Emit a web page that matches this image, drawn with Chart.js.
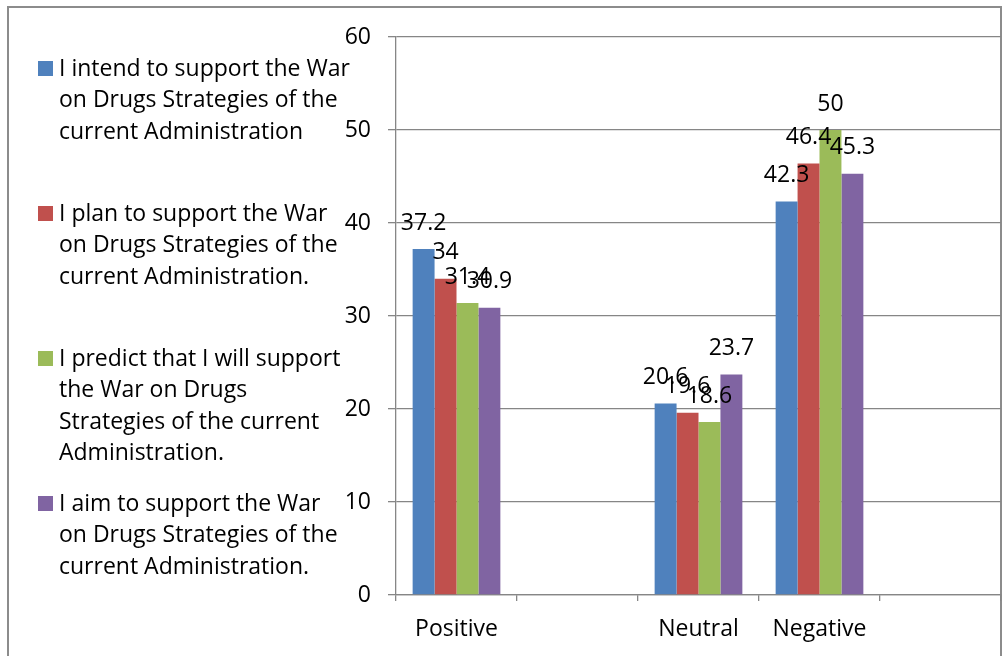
<!DOCTYPE html>
<html>
<head>
<meta charset="utf-8">
<title>War on Drugs Strategies</title>
<script src="https://cdn.jsdelivr.net/npm/chart.js@4.4.1/dist/chart.umd.min.js"></script>
<style>
  html, body { margin: 0; padding: 0; background: #fff; }
  #wrap { width: 1006px; height: 656px; position: relative; }
</style>
</head>
<body>
<div id="wrap"><canvas id="supportChart" width="1006" height="656"></canvas></div>
<script>
// categories (two blank slots keep the Excel spacing)
const categories = ['Positive', '', 'Neutral', 'Negative', ''];

const intendValues  = [37.2, null, 20.6, 42.3, null];
const planValues    = [34,   null, 19.6, 46.4, null];
const predictValues = [31.4, null, 18.6, 50,   null];
const aimValues     = [30.9, null, 23.7, 45.3, null];

const yTickValues = [0, 10, 20, 30, 40, 50, 60];

// legend text, already broken into lines
const intendLines  = ['I intend to support the War', 'on Drugs Strategies of the', 'current Administration'];
const planLines    = ['I plan to support the War', 'on Drugs Strategies of the', 'current Administration.'];
const predictLines = ['I predict that I will support', 'the War on Drugs', 'Strategies of the current', 'Administration.'];
const aimLines     = ['I aim to support the War', 'on Drugs Strategies of the', 'current Administration.'];

const FONT = '"Open Sans", "Noto Sans", sans-serif';
const FONT_SIZE = 23;

// grey frame round the whole chart
const framePlugin = {
    id: 'frame',
    beforeDraw(chart) {
        const c = chart.ctx;
        c.save();
        c.fillStyle = '#fff';
        c.fillRect(0, 0, chart.width, chart.height);
        c.strokeStyle = '#8c8c8c';
        c.lineWidth = 2;
        c.strokeRect(8, 7, 993, 680);
        c.restore();
    }
};

// value labels over each bar
const valueLabels = {
    id: 'valueLabels',
    afterDatasetsDraw(chart) {
        const c = chart.ctx;
        c.save();
        c.font = FONT_SIZE + 'px ' + FONT;
        c.fillStyle = '#000';
        c.textAlign = 'center';
        c.textBaseline = 'middle';
        chart.data.datasets.forEach((ds, i) => {
            chart.getDatasetMeta(i).data.forEach((bar, j) => {
                const v = ds.data[j];
                if (v === null) return;
                c.fillText(String(v), bar.x, bar.y - 26);
            });
        });
        c.restore();
    }
};

// legend on the left with wrapped text
const sideLegend = {
    id: 'sideLegend',
    afterDraw(chart) {
        const c = chart.ctx;
        c.save();
        c.font = FONT_SIZE + 'px ' + FONT;
        c.textAlign = 'left';
        c.textBaseline = 'middle';
        chart.data.datasets.forEach((ds, i) => {
            const y0 = 69 + 145 * i;
            c.fillStyle = ds.backgroundColor;
            c.fillRect(38, y0 - 8, 15, 15);
            c.fillStyle = '#000';
            ds.legendLines.forEach((line, k) => {
                c.fillText(line, 59, y0 + k * 31.5);
            });
        });
        c.restore();
    }
};

const ctx = document.getElementById('supportChart').getContext('2d');
new Chart(ctx, {
    type: 'bar',
    data: {
        labels: categories,
        datasets: [{
            label: intendLines.join(' '),
            legendLines: intendLines,
            data: intendValues,
            backgroundColor: '#4F81BD'
        }, {
            label: planLines.join(' '),
            legendLines: planLines,
            data: planValues,
            backgroundColor: '#C0504D'
        }, {
            label: predictLines.join(' '),
            legendLines: predictLines,
            data: predictValues,
            backgroundColor: '#9BBB59'
        }, {
            label: aimLines.join(' '),
            legendLines: aimLines,
            data: aimValues,
            backgroundColor: '#8064A2'
        }]
    },
    options: {
        responsive: false,
        animation: false,
        layout: {
            padding: { left: 0, right: 5, top: 37, bottom: 0 }
        },
        datasets: {
            bar: {
                categoryPercentage: 0.725,
                barPercentage: 1.0,
                borderWidth: 0
            }
        },
        scales: {
            x: {
                afterFit(scale) { scale.height = 61; },
                grid: {
                    offset: true,
                    drawOnChartArea: false,
                    drawTicks: true,
                    tickLength: 6,
                    color: '#868686',
                    lineWidth: 1.3
                },
                border: { color: '#868686', width: 1.3 },
                ticks: {
                    color: '#000',
                    padding: 15,
                    font: { family: FONT, size: FONT_SIZE }
                }
            },
            y: {
                min: 0,
                max: 60,
                afterFit(scale) { scale.width = 396; },
                afterBuildTicks(scale) {
                    scale.ticks = yTickValues.map(v => ({ value: v }));
                },
                grid: {
                    color: '#868686',
                    lineWidth: 1.3,
                    tickLength: 8
                },
                border: { color: '#868686', width: 1.3 },
                ticks: {
                    color: '#000',
                    padding: 17,
                    font: { family: FONT, size: FONT_SIZE }
                }
            }
        },
        plugins: {
            legend: { display: false },
            tooltip: { enabled: false }
        }
    },
    plugins: [framePlugin, valueLabels, sideLegend]
});
</script>
</body>
</html>
